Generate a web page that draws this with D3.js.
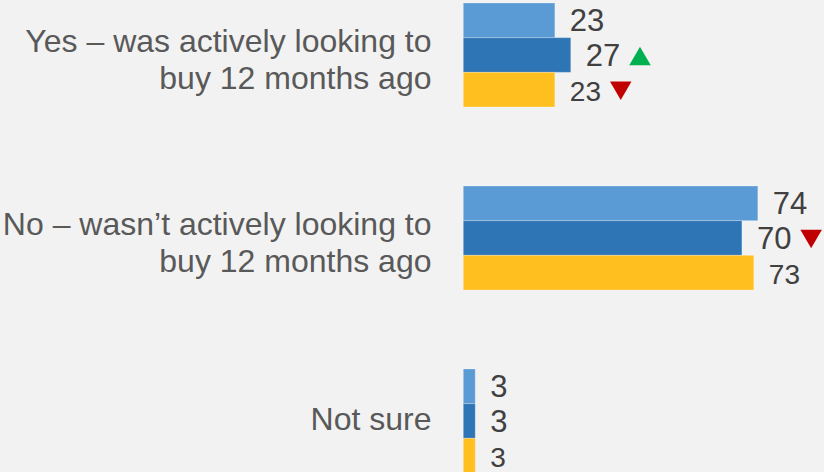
<!DOCTYPE html>
<html>
<head>
<meta charset="utf-8">
<script src="https://cdn.jsdelivr.net/npm/d3@7/dist/d3.min.js"></script>
<style>
  html, body { margin: 0; padding: 0; background: #f2f2f2; }
  svg { display: block; }
</style>
</head>
<body>
<div id="chart"></div>
<script>
// Answer categories (each entry split into its wrapped lines)
const categories = [
  ["Yes – was actively looking to", "buy 12 months ago"],
  ["No – wasn’t actively looking to", "buy 12 months ago"],
  ["Not sure"]
];

// Percentages for the three compared groups
const seriesA = [23, 74, 3];
const seriesB = [27, 70, 3];
const seriesC = [23, 73, 3];

// Significant change markers per series/category ("up", "down" or null)
const changeA = [null, null, null];
const changeB = ["up", "down", null];
const changeC = ["down", null, null];

const seriesKeys = ["A", "B", "C"];
const seriesColors = ["#5b9bd5", "#2e75b6", "#ffbf1f"];
const labelSizes = [31, 31, 28];

const W = 824, H = 472;

const rows = categories.map((lines, i) => ({
  key: "cat" + i,
  lines,
  values: [
    { s: "A", v: seriesA[i], change: changeA[i] },
    { s: "B", v: seriesB[i], change: changeB[i] },
    { s: "C", v: seriesC[i], change: changeC[i] }
  ]
}));

const svg = d3.select("#chart").append("svg")
  .attr("width", W).attr("height", H);

svg.append("rect").attr("width", W).attr("height", H).attr("fill", "#f2f2f2");

const x = d3.scaleLinear().domain([0, 100]).range([463.3, 861.3]);

const y = d3.scaleBand()
  .domain(rows.map(d => d.key))
  .range([3, 473])
  .paddingInner(0.4317)
  .paddingOuter(0);

const yInner = d3.scaleBand()
  .domain(seriesKeys)
  .range([0, y.bandwidth()])
  .padding(0);

const color = d3.scaleOrdinal().domain(seriesKeys).range(seriesColors);
const fontSize = d3.scaleOrdinal().domain(seriesKeys).range(labelSizes);

const font = "'Liberation Sans', Arial, Helvetica, sans-serif";

const groups = svg.selectAll("g.cat")
  .data(rows)
  .join("g")
  .attr("class", "cat")
  .attr("transform", d => `translate(0,${y(d.key)})`);

// Bars
groups.selectAll("rect.bar")
  .data(d => d.values)
  .join("rect")
  .attr("class", "bar")
  .attr("x", x(0))
  .attr("y", d => yInner(d.s))
  .attr("width", d => x(d.v) - x(0))
  .attr("height", yInner.bandwidth())
  .attr("fill", d => color(d.s))
  .attr("stroke", "rgba(255,255,255,0.25)")
  .attr("stroke-width", 1);

// Value labels
const valueLabels = groups.selectAll("text.val")
  .data(d => d.values)
  .join("text")
  .attr("class", "val")
  .attr("x", d => x(d.v) + 15)
  .attr("y", d => yInner(d.s) + yInner.bandwidth() / 2 + 0.36 * fontSize(d.s) + (d.s === "C" ? 1.5 : 0))
  .attr("font-family", font)
  .attr("font-size", d => fontSize(d.s))
  .attr("fill", "#404040")
  .text(d => d.v);

// Change arrows placed after their value labels
valueLabels.each(function(d) {
  if (!d.change) return;
  const tw = this.getComputedTextLength();
  const x0 = x(d.v) + 15 + tw + 9;
  const cy = yInner(d.s) + yInner.bandwidth() / 2 + 1;
  const w = 21.5, h = 18.5;
  const pts = d.change === "up"
    ? [[x0, cy + h / 2], [x0 + w, cy + h / 2], [x0 + w / 2, cy - h / 2]]
    : [[x0, cy - h / 2], [x0 + w, cy - h / 2], [x0 + w / 2, cy + h / 2]];
  d3.select(this.parentNode).append("path")
    .attr("d", d3.line()(pts) + "Z")
    .attr("fill", d.change === "up" ? "#00b050" : "#c00000");
});

// Category labels
const catLabels = groups.append("text")
  .attr("text-anchor", "end")
  .attr("font-family", font)
  .attr("font-size", 32)
  .attr("fill", "#595959");

catLabels.selectAll("tspan")
  .data(d => d.lines.map((t, i) => ({ t, i, n: d.lines.length })))
  .join("tspan")
  .attr("x", 431.5)
  .attr("y", d => {
    const c = y.bandwidth() / 2;
    if (d.n === 1) return c + 9;
    return c - 3 + d.i * 37.5;
  })
  .text(d => d.t);
</script>
</body>
</html>
